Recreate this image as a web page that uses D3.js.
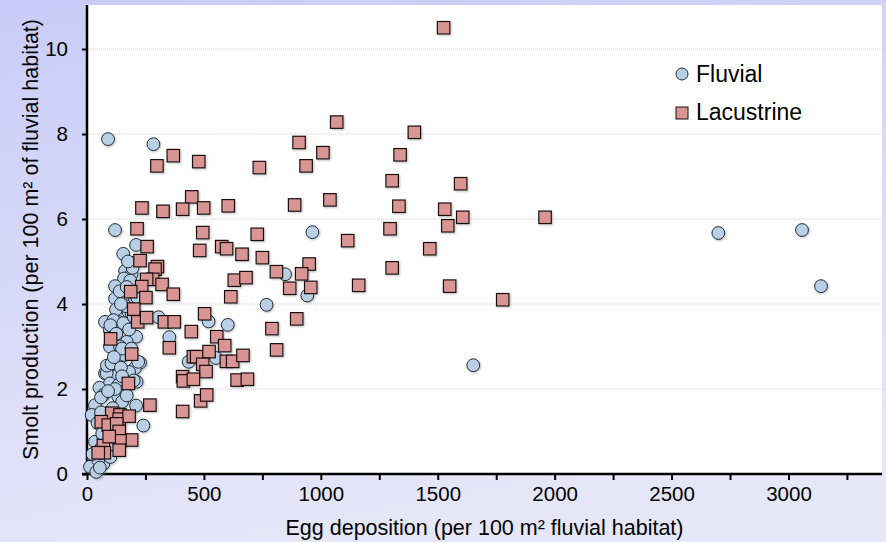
<!DOCTYPE html>
<html>
<head>
<meta charset="utf-8">
<script src="https://cdn.jsdelivr.net/npm/d3@7"></script>
<style>
  body { margin: 0; padding: 0; }
  svg { display: block; font-family: "Liberation Sans", Arial, sans-serif; }
</style>
</head>
<body>
<svg id="chart" width="886" height="542"></svg>
<script>
// egg deposition (x) and smolt production (y)
const fluvialX = [90, 284, 120, 964, 2700, 3058, 3139, 847, 942, 768, 1652, 520, 602, 435, 552, 306, 352, 241,
  210, 155, 198, 163, 191, 158, 120, 120, 124, 177, 191, 205, 77, 134, 113, 155, 210, 170, 98, 141, 112, 98,
  127, 227, 205, 219, 77, 98, 127, 84, 98, 134, 212, 53, 70, 134, 34, 20, 210, 60, 27, 20, 13, 70, 48, 34,
  70, 24, 60, 90, 105, 115, 95, 80, 130, 150, 110, 160, 180, 160, 150, 180, 200, 165, 140, 185, 170, 215,
  195, 175, 145, 100, 125, 85, 105, 145, 120, 90, 60, 45, 65, 120, 100, 40, 55, 115, 190, 200, 170, 150];
const fluvialY = [7.88, 7.76, 5.74, 5.69, 5.67, 5.74, 4.42, 4.70, 4.20, 3.98, 2.56, 3.59, 3.51, 2.64, 2.73, 3.69, 3.22, 1.14,
  5.39, 5.18, 4.97, 4.78, 4.71, 4.60, 4.42, 4.13, 3.87, 3.82, 3.78, 4.08, 3.58, 3.58, 3.62, 3.55, 3.23, 3.11, 3.00, 3.00, 3.31, 3.39,
  2.64, 2.62, 2.49, 2.64, 2.37, 2.33, 2.31, 2.37, 2.13, 2.09, 2.17, 2.03, 1.86, 1.82, 1.62, 1.39, 1.61, 1.80, 0.41, 0.17, 0.17, 0.24, 0.33, 0.76,
  0.88, 0.47, 0.60, 0.55, 0.70, 1.00, 1.10, 1.30, 1.50, 1.70, 1.55, 1.95, 2.40, 2.80, 2.95, 3.40, 3.70, 3.95, 4.30, 4.55, 4.40, 4.15,
  4.85, 5.00, 4.00, 3.50, 3.30, 2.55, 2.60, 2.50, 2.00, 1.95, 1.45, 1.20, 0.95, 0.85, 0.40, 0.05, 0.15, 2.75, 2.95, 2.20, 1.85, 2.30];

const lacustrineX = [1525, 1068, 1400, 907, 1009, 937, 1339, 1305, 1598, 888, 1039, 1334, 1530, 1607, 1959, 1543, 1296, 1115,
  1466, 950, 1305, 918, 867, 957, 1162, 1551, 1778, 897, 811, 791, 737, 728, 750, 810, 663, 630, 680, 615, 604,
  299, 369, 478, 448, 235, 325, 409, 499, 214, 495, 257, 482, 576, 597, 227, 301, 291, 281, 255, 321, 234, 187,
  369, 252, 200, 503, 217, 255, 331, 373, 446, 555, 352, 589, 101, 191, 455, 469, 522, 495, 509, 409, 412, 455,
  642, 686, 596, 623, 667, 177, 269, 409, 486, 512, 106, 141, 138, 180, 61, 91, 127, 138, 191, 141, 70, 74, 138, 48, 95];
const lacustrineY = [10.50, 8.28, 8.04, 7.80, 7.56, 7.25, 7.51, 6.90, 6.83, 6.33, 6.45, 6.30, 6.23, 6.04, 6.04, 5.84, 5.77, 5.49,
  5.30, 4.94, 4.85, 4.71, 4.37, 4.39, 4.44, 4.42, 4.10, 3.65, 2.92, 3.42, 7.21, 5.64, 5.09, 4.76, 5.17, 4.56, 4.62, 4.17, 6.31,
  7.25, 7.49, 7.35, 6.52, 6.26, 6.18, 6.23, 6.26, 5.77, 5.68, 5.35, 5.26, 5.35, 5.30, 5.02, 4.88, 4.82, 4.58, 4.58, 4.46, 4.41, 4.29,
  4.23, 4.15, 3.88, 3.77, 3.58, 3.68, 3.58, 3.58, 3.35, 3.23, 2.97, 3.02, 3.18, 2.82, 2.76, 2.76, 2.88, 2.58, 2.41, 2.29, 2.19, 2.23,
  2.21, 2.23, 2.65, 2.65, 2.79, 2.13, 1.62, 1.47, 1.72, 1.86, 1.43, 1.39, 1.29, 1.36, 1.23, 1.15, 1.18, 1.00, 0.80, 0.78, 0.67, 0.50, 0.56, 0.50, 0.88];

const xTicks = d3.range(0, 3400, 250);
const yTicks = [0, 2, 4, 6, 8, 10];
const seriesNames = ["Fluvial", "Lacustrine"];

const svg = d3.select("#chart");
const W = 886, H = 542;
const padL = 87, padR = 882, padT = 5, padB = 474;
const font = "'Liberation Sans', Arial, sans-serif";

// background gradient
const defs = svg.append("defs");
const grad = defs.append("linearGradient").attr("id", "bg")
    .attr("x1", 0).attr("y1", 0).attr("x2", 0.3).attr("y2", 1);
grad.append("stop").attr("offset", "0%").attr("stop-color", "#c9ccf8");
grad.append("stop").attr("offset", "100%").attr("stop-color", "#e6e6f9");

const shadow = defs.append("filter").attr("id", "shadow")
    .attr("x", "-30%").attr("y", "-30%").attr("width", "160%").attr("height", "160%");
shadow.append("feDropShadow").attr("dx", 1).attr("dy", 1).attr("stdDeviation", 0.8)
    .attr("flood-color", "#777").attr("flood-opacity", 0.5);

svg.append("rect").attr("width", W).attr("height", H).attr("fill", "url(#bg)");
svg.append("rect").attr("x", padL).attr("y", padT)
    .attr("width", padR - padL).attr("height", padB - padT).attr("fill", "#fff");

const x = d3.scaleLinear().domain([0, 3400]).range([padL, padR]);
const y = d3.scaleLinear().domain([0, 11]).range([padB, padB - 11 * 42.5]);

// grid lines
svg.append("g").selectAll("line")
    .data(yTicks.filter(d => d > 0))
    .enter().append("line")
    .attr("x1", padL).attr("x2", padR)
    .attr("y1", d => y(d)).attr("y2", d => y(d))
    .attr("stroke", "#d4d4d4").attr("stroke-width", 1.2)
    .attr("stroke-dasharray", "1,1");

// axes
const xAxis = d3.axisBottom(x)
    .tickValues(xTicks)
    .tickSize(6).tickSizeOuter(0).tickPadding(6)
    .tickFormat(d => d % 500 === 0 ? d : "");
const gx = svg.append("g").attr("transform", `translate(0,${padB})`).call(xAxis);
gx.select(".domain").remove();
gx.append("line").attr("x1", padL - 5).attr("x2", padR).attr("y1", 0).attr("y2", 0)
    .attr("stroke", "#000").attr("stroke-width", 2.5);
gx.selectAll(".tick line").attr("stroke", "#000").attr("stroke-width", 2);
gx.selectAll(".tick text").attr("fill", "#000").style("font-size", "20.5px")
    .style("font-family", font);

const yAxis = d3.axisLeft(y)
    .tickValues(yTicks)
    .tickSize(5).tickSizeOuter(0).tickPadding(14);
const gy = svg.append("g").attr("transform", `translate(${padL},0)`).call(yAxis);
gy.select(".domain").remove();
gy.append("line").attr("x1", 0).attr("x2", 0).attr("y1", padT).attr("y2", padB)
    .attr("stroke", "#000").attr("stroke-width", 2.5);
gy.selectAll(".tick line").attr("stroke", "#000").attr("stroke-width", 2);
gy.selectAll(".tick text").attr("fill", "#000").style("font-size", "20.5px")
    .style("font-family", font);

// axis titles
svg.append("text")
    .attr("x", (padL + padR) / 2).attr("y", 535)
    .attr("text-anchor", "middle")
    .style("font-size", "21.5px").style("font-family", font)
    .text("Egg deposition (per 100 m\u00b2 fluvial habitat)");

svg.append("text")
    .attr("transform", `translate(38,${(padT + padB) / 2}) rotate(-90)`)
    .attr("text-anchor", "middle")
    .style("font-size", "21.5px").style("font-family", font)
    .text("Smolt production (per 100 m\u00b2 of fluvial habitat)");

// points
const fluvial = fluvialX.map((d, i) => ({ x: d, y: fluvialY[i] }));
const lacustrine = lacustrineX.map((d, i) => ({ x: d, y: lacustrineY[i] }));

const pts = svg.append("g").attr("filter", "url(#shadow)");

pts.selectAll("circle")
    .data(fluvial)
    .enter().append("circle")
    .attr("cx", d => x(d.x)).attr("cy", d => y(d.y))
    .attr("r", 6.4)
    .attr("fill", "#b8cfe5").attr("stroke", "#1e2a36").attr("stroke-width", 1);

const s = 12.5;
pts.selectAll("rect")
    .data(lacustrine)
    .enter().append("rect")
    .attr("x", d => x(d.x) - s / 2).attr("y", d => y(d.y) - s / 2)
    .attr("width", s).attr("height", s)
    .attr("fill", "#d99594").attr("stroke", "#1a0e0e").attr("stroke-width", 1.2);

// legend
const lg = svg.append("g");
lg.append("circle").attr("cx", 682).attr("cy", 74).attr("r", 6)
    .attr("fill", "#b8cfe5").attr("stroke", "#1e2a36");
lg.append("rect").attr("x", 676).attr("y", 107).attr("width", 12).attr("height", 12)
    .attr("fill", "#d99594").attr("stroke", "#1a0e0e");
lg.selectAll("text")
    .data(seriesNames)
    .enter().append("text")
    .attr("x", 696).attr("y", (d, i) => 82 + i * 38)
    .style("font-size", "23px").style("font-family", font)
    .text(d => d);
</script>
</body>
</html>
